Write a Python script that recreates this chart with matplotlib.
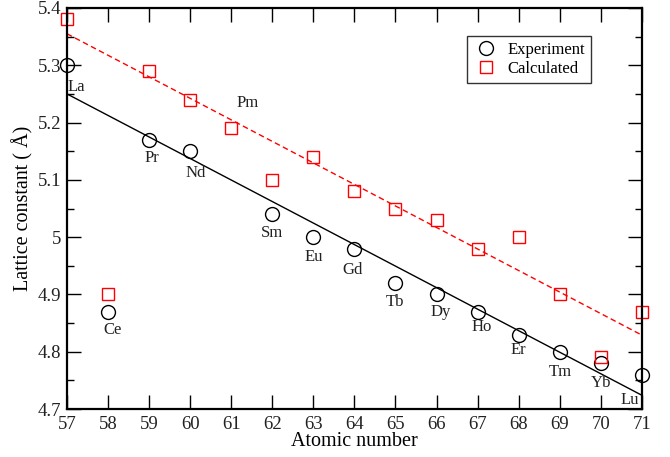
import matplotlib
matplotlib.use('Agg')
import matplotlib.pyplot as plt
from matplotlib.ticker import MultipleLocator, FuncFormatter

plt.rcParams['font.family'] = ['Liberation Serif', 'DejaVu Serif']

# experiment values
exp_z = [57, 58, 59, 60, 62, 63, 64, 65, 66, 67, 68, 69, 70, 71]
exp_a = [5.30, 4.87, 5.17, 5.15, 5.04, 5.00, 4.98, 4.92, 4.90, 4.87, 4.83, 4.80, 4.78, 4.76]

# calculated values
calc_z = [57, 58, 59, 60, 61, 62, 63, 64, 65, 66, 67, 68, 69, 70, 71]
calc_a = [5.38, 4.90, 5.29, 5.24, 5.19, 5.10, 5.14, 5.08, 5.05, 5.03, 4.98, 5.00, 4.90, 4.79, 4.87]

# linear fit lines (end points)
fit_z = [57, 71]
exp_fit = [5.250, 4.724]
calc_fit = [5.355, 4.829]

# element names and where they are written
elements = ["La", "Ce", "Pr", "Nd", "Pm", "Sm", "Eu", "Gd", "Tb", "Dy", "Ho", "Er", "Tm", "Yb", "Lu"]
label_z = [57.22, 58.10, 59.07, 60.14, 61.41, 62.0, 63.0, 63.95, 65.0, 66.1, 67.1, 68.0, 69.02, 70.0, 70.7]
label_a = [5.262, 4.838, 5.138, 5.112, 5.234, 5.007, 4.965, 4.943, 4.887, 4.869, 4.843, 4.803, 4.765, 4.745, 4.716]

fig = plt.figure(figsize=(6.7, 4.57), dpi=100)
ax = fig.add_axes([0.1, 0.105, 0.858, 0.8775])

ax.plot(fit_z, exp_fit, color='black', lw=1.0)
ax.plot(fit_z, calc_fit, color='red', lw=1.0, ls=(0, (4, 2.5)))
ax.plot(exp_z, exp_a, 'o', ms=10, mfc='none', mec='black', mew=1.0, ls='none',
        label='Experiment', clip_on=False)
ax.plot(calc_z, calc_a, 's', ms=8.5, mfc='none', mec='red', mew=1.0, ls='none',
        label='Calculated', clip_on=False)

for name, z, a in zip(elements, label_z, label_a):
    ax.text(z, a, name, ha='center', va='center', fontsize=12, color='#222222')

ax.set_xlim(57, 71)
ax.set_ylim(4.7, 5.4)
ax.xaxis.set_major_locator(MultipleLocator(1))
ax.yaxis.set_major_locator(MultipleLocator(0.1))
ax.yaxis.set_minor_locator(MultipleLocator(0.05))
ax.yaxis.set_major_formatter(FuncFormatter(lambda v, p: '%g' % round(v, 2)))
ax.tick_params(which='both', direction='in', top=True, right=True, labelsize=13.5,
               width=1.0, colors='black', labelcolor='#222222')
ax.tick_params(which='major', length=10)
ax.tick_params(axis='x', which='major', pad=5)
ax.tick_params(axis='y', which='major', pad=4)
ax.tick_params(which='minor', length=5)
for s in ax.spines.values():
    s.set_linewidth(1.6)

ax.set_xlabel('Atomic number', fontsize=14.5, labelpad=-1)
ax.set_ylabel(u'Lattice constant ( \u00c5)', fontsize=14.5, labelpad=3)

leg = ax.legend(loc='upper right', bbox_to_anchor=(0.911, 0.930), borderaxespad=0,
                fontsize=12, frameon=True, fancybox=False, edgecolor='black',
                borderpad=0.35, handletextpad=0.55, labelspacing=0.2, handlelength=1.5)
leg.get_frame().set_linewidth(1.0)

plt.savefig('out.png', dpi=100)
